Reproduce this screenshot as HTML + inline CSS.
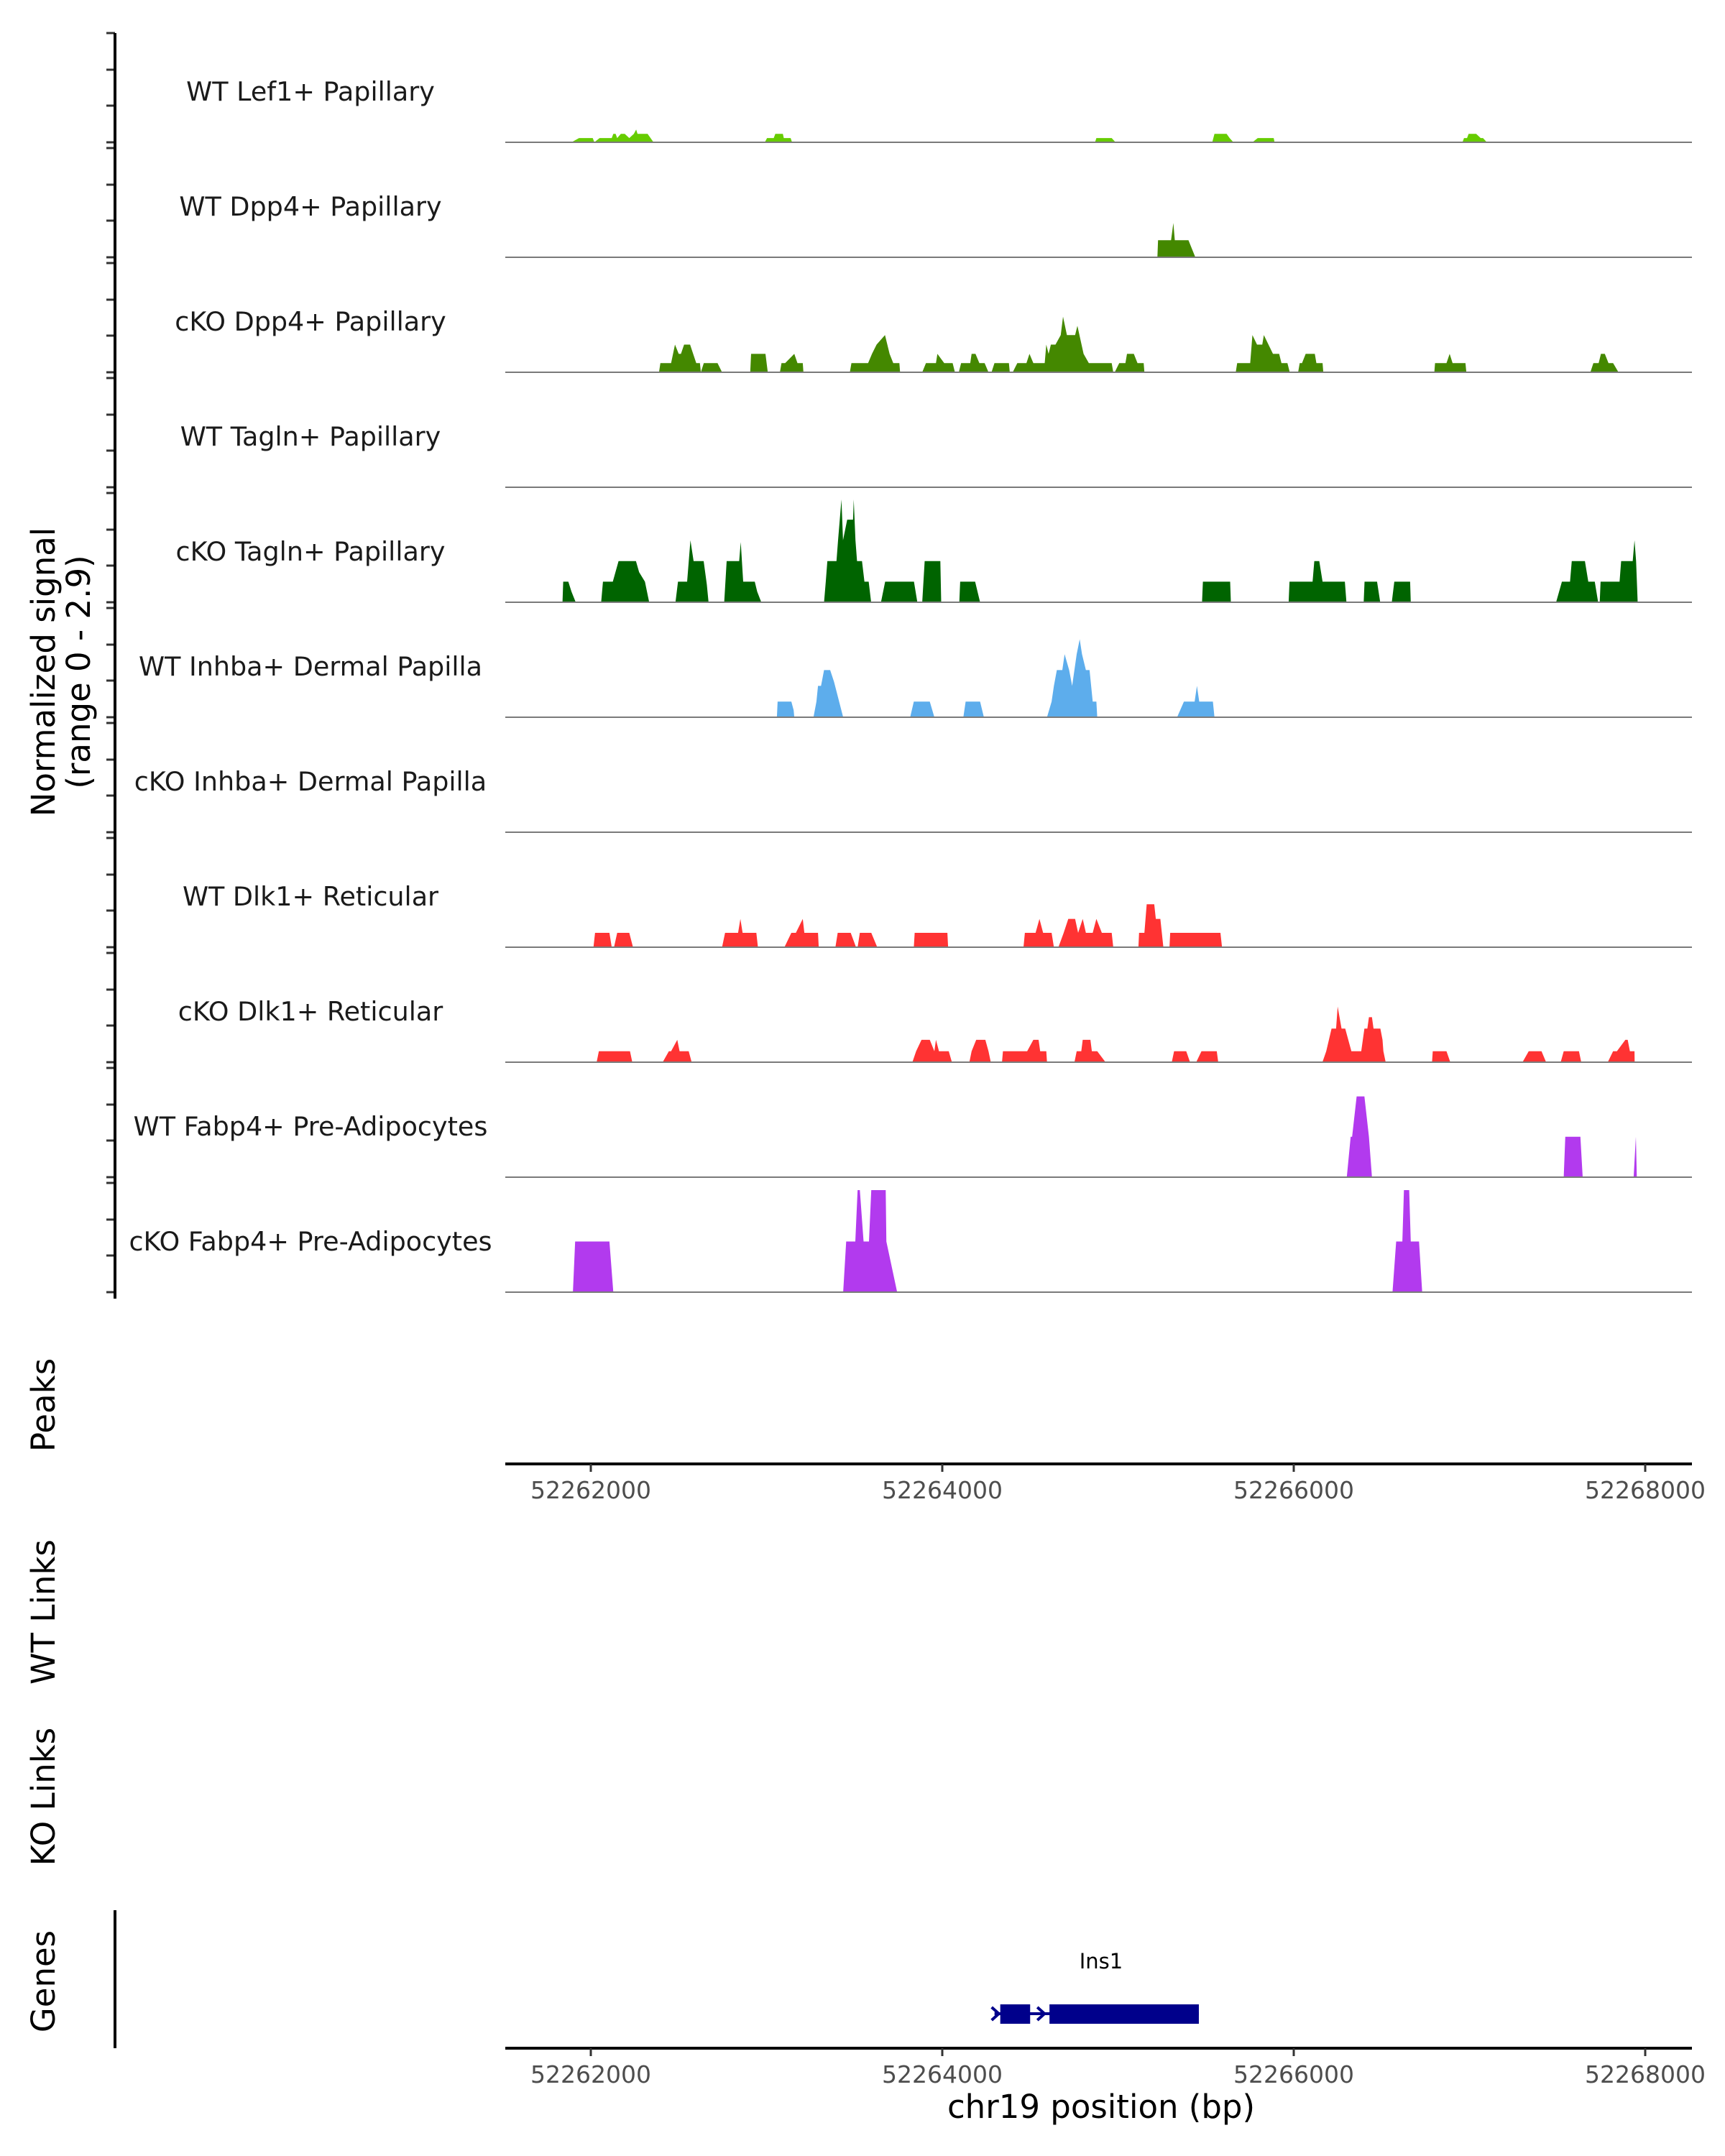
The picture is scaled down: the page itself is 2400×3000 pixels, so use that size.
<!DOCTYPE html>
<html><head><meta charset="utf-8"><style>
html,body{margin:0;padding:0;background:#fff;}
svg{display:block;font-family:"DejaVu Sans","Liberation Sans",sans-serif;}
</style></head><body>
<svg id="chart" width="2400" height="3000" viewBox="0 0 2400 3000" xmlns="http://www.w3.org/2000/svg">
<rect width="2400" height="3000" fill="#fff"/>
<g id="tracks"></g>
<g id="axes"></g>
</svg>
<script>
const regionStart = 52261500;
const trackNames = ["WT Lef1+ Papillary","WT Dpp4+ Papillary","cKO Dpp4+ Papillary","WT Tagln+ Papillary","cKO Tagln+ Papillary","WT Inhba+ Dermal Papilla","cKO Inhba+ Dermal Papilla","WT Dlk1+ Reticular","cKO Dlk1+ Reticular","WT Fabp4+ Pre-Adipocytes","cKO Fabp4+ Pre-Adipocytes"];
const trackColors = ["#66cc00","#448800","#448800","#006400","#006400","#5dadec","#5dadec","#ff3333","#ff3333","#b23aee","#b23aee"];
const xTicks = [52262000,52264000,52266000,52268000];
const yRangeMax = 2.9;
// positions: bp offset from regionStart; values: normalized signal
const lef1Pos = [390,433,511,520,550,619,628,641,650,671,693,719,745,758,766,823,857,1490,1503,1541,1550,1593,1598,1637,1645,3369,3377,3464,3486,4036,4049,4118,4135,4157,4265,4295,4386,4391,5460,5469,5486,5495,5538,5564,5577,5599];
const lef1Val = [0,0.12,0.12,0,0.12,0.12,0.24,0.24,0.12,0.24,0.24,0.12,0.24,0.36,0.24,0.24,0,0,0.12,0.12,0.24,0.24,0.12,0.12,0,0,0.12,0.12,0,0,0.24,0.24,0.12,0,0,0.12,0.12,0,0,0.12,0.12,0.24,0.24,0.12,0.12,0];
const wtDpp4Pos = [3724,3728,3802,3815,3823,3901,3940];
const wtDpp4Val = [0,0.48,0.48,0.97,0.48,0.48,0];
const koDpp4Pos = [888,896,957,979,1000,1013,1031,1065,1100,1121,1126,1143,1221,1247,1407,1412,1494,1507,1576,1585,1606,1658,1676,1706,1710,1974,1983,2078,2100,2126,2174,2200,2221,2256,2260,2386,2407,2464,2472,2511,2559,2572,2594,2607,2659,2667,2689,2711,2741,2763,2780,2797,2879,2884,2901,2927,2979,2996,3018,3083,3092,3105,3118,3144,3174,3187,3209,3256,3269,3304,3334,3464,3473,3481,3507,3542,3551,3590,3611,3646,3650,4170,4178,4252,4265,4291,4321,4330,4382,4417,4430,4464,4477,4525,4534,4547,4568,4620,4629,4664,4668,5300,5304,5369,5387,5404,5477,5482,6188,6205,6235,6248,6270,6291,6317,6348];
const koDpp4Val = [0,0.26,0.26,0.78,0.52,0.52,0.78,0.78,0.26,0.26,0,0.26,0.26,0,0,0.52,0.52,0,0,0.26,0.26,0.52,0.26,0.26,0,0,0.26,0.26,0.52,0.78,1.05,0.52,0.26,0.26,0,0,0.26,0.26,0.52,0.26,0.26,0,0,0.26,0.26,0.52,0.52,0.26,0.26,0,0,0.26,0.26,0,0,0.26,0.26,0.52,0.26,0.26,0.78,0.52,0.78,0.78,1.05,1.57,1.05,1.05,1.31,0.52,0.26,0.26,0,0,0.26,0.26,0.52,0.52,0.26,0.26,0,0,0.26,0.26,1.05,0.78,0.78,1.05,0.52,0.52,0.26,0.26,0,0,0.26,0.26,0.52,0.52,0.26,0.26,0,0,0.26,0.26,0.52,0.26,0.26,0,0,0.26,0.26,0.52,0.52,0.26,0.26,0];
const wtTaglnPos = [];
const wtTaglnVal = [];
const koTaglnPos = [339,343,372,390,414,559,569,625,658,757,775,808,832,982,996,1048,1067,1085,1142,1160,1170,1259,1273,1344,1353,1367,1433,1447,1470,1827,1837,1846,1898,1907,1926,1935,1959,1992,1996,2006,2015,2043,2057,2081,2095,2151,2175,2339,2358,2386,2400,2489,2494,2597,2602,2687,2715,3978,3983,4138,4142,4471,4476,4607,4617,4645,4664,4791,4800,4898,4903,4974,4992,5058,5072,5162,5166,5993,6026,6072,6082,6157,6176,6213,6232,6241,6246,6354,6363,6429,6439,6448,6457];
const koTaglnVal = [0,0.58,0.58,0.3,0,0,0.58,0.58,1.16,1.16,0.85,0.58,0,0,0.58,0.58,1.75,1.16,1.16,0.5,0,0,1.16,1.16,1.7,0.58,0.58,0.3,0,0,0.58,1.16,1.16,1.75,2.9,1.75,2.33,2.33,2.9,1.75,1.16,1.16,0.58,0.58,0,0,0.58,0.58,0,0,1.16,1.16,0,0,0.58,0.58,0,0,0.58,0.58,0,0,0.58,0.58,1.16,1.16,0.58,0.58,0,0,0.58,0.58,0,0,0.58,0.58,0,0,0.58,0.58,1.16,1.16,0.58,0.58,0,0,0.58,0.58,1.16,1.16,1.75,1.16,0];
const wtInhbaPos = [1559,1563,1641,1654,1658,1767,1784,1793,1810,1827,1862,1884,1936,2317,2338,2429,2455,2620,2633,2715,2737,3096,3122,3135,3152,3183,3196,3222,3239,3265,3282,3295,3317,3338,3356,3377,3382,3836,3875,3936,3949,3962,4040,4049];
const wtInhbaVal = [0,0.44,0.44,0.2,0,0,0.44,0.885,0.885,1.33,1.33,1.0,0,0,0.44,0.44,0,0,0.44,0.44,0,0,0.44,0.885,1.33,1.33,1.78,1.33,0.885,1.78,2.2,1.78,1.33,1.33,0.44,0.44,0,0,0.44,0.44,0.885,0.44,0.44,0];
const koInhbaPos = [];
const koInhbaVal = [];
const wtDlk1Pos = [515,524,606,619,632,650,719,740,1247,1264,1338,1351,1364,1442,1451,1602,1641,1667,1706,1715,1793,1797,1892,1905,1979,2009,2018,2031,2096,2130,2338,2343,2529,2533,2962,2970,3031,3053,3074,3122,3135,3161,3191,3217,3256,3273,3299,3317,3356,3377,3408,3464,3473,3616,3620,3650,3663,3706,3715,3741,3758,3793,3797,4083,4092];
const wtDlk1Val = [0,0.405,0.405,0,0,0.405,0.405,0,0,0.405,0.405,0.8,0.405,0.405,0,0,0.405,0.405,0.8,0.405,0.405,0,0,0.405,0.405,0,0,0.405,0.405,0,0,0.405,0.405,0,0,0.405,0.405,0.8,0.405,0.405,0,0,0.405,0.8,0.8,0.405,0.8,0.405,0.405,0.8,0.405,0.405,0,0,0.405,0.405,1.21,1.21,0.8,0.8,0,0,0.405,0.405,0];
const koDlk1Pos = [533,546,723,736,909,944,957,992,1005,1057,1074,2330,2351,2382,2429,2455,2464,2481,2537,2555,2654,2667,2693,2745,2763,2776,2840,2845,2983,3018,3048,3057,3092,3096,3252,3265,3291,3299,3343,3351,3382,3429,3806,3819,3888,3910,3945,3975,4062,4070,4663,4685,4715,4741,4750,4772,4793,4828,4884,4902,4919,4928,4945,4954,4993,5005,5010,5023,5287,5291,5369,5391,5802,5837,5910,5936,6019,6036,6123,6136,6287,6317,6339,6387,6400,6413,6439,6440];
const koDlk1Val = [0,0.31,0.31,0,0,0.31,0.31,0.63,0.31,0.31,0,0,0.31,0.63,0.63,0.31,0.63,0.31,0.31,0,0,0.31,0.63,0.63,0.31,0,0,0.31,0.31,0.63,0.63,0.31,0.31,0,0,0.31,0.31,0.63,0.63,0.31,0.31,0,0,0.31,0.31,0,0,0.31,0.31,0,0,0.31,0.95,0.95,1.57,0.95,0.95,0.31,0.31,0.95,0.95,1.27,1.27,0.95,0.95,0.63,0.31,0,0,0.31,0.31,0,0,0.31,0.31,0,0,0.31,0.31,0,0,0.31,0.31,0.63,0.63,0.31,0.31,0];
const wtFabp4Pos = [4802,4824,4832,4858,4902,4928,4945,6036,6045,6131,6144,6434,6447,6452];
const wtFabp4Val = [0,1.14,1.14,2.28,2.28,1.14,0,0,1.14,1.14,0,0,1.14,0];
const koFabp4Pos = [398,411,606,628,1936,1953,2005,2018,2031,2052,2083,2096,2178,2182,2243,5062,5083,5118,5127,5157,5166,5213,5231];
const koFabp4Val = [0,1.43,1.43,0,0,1.43,1.43,2.88,2.88,1.43,1.43,2.88,2.88,1.43,0,0,1.43,1.43,2.88,2.88,1.43,1.43,0];
const geneName = "Ins1";
const exonStarts = [52264330,52264610];
const exonEnds = [52264500,52265460];

const trackPos = [lef1Pos,wtDpp4Pos,koDpp4Pos,wtTaglnPos,koTaglnPos,wtInhbaPos,koInhbaPos,wtDlk1Pos,koDlk1Pos,wtFabp4Pos,koFabp4Pos];
const trackVal = [lef1Val,wtDpp4Val,koDpp4Val,wtTaglnVal,koTaglnVal,wtInhbaVal,koInhbaVal,wtDlk1Val,koDlk1Val,wtFabp4Val,koFabp4Val];

const NS = "http://www.w3.org/2000/svg";
const X0 = 822, PXPERBP = 0.2445, PL = 703, PR = 2354;
function xs(bp){ return X0 + (bp - 52262000) * PXPERBP; }
function base(i){ return 198 + 160 * i; }
function ys(i, v){ return base(i) - v / yRangeMax * 143; }
function mk(tag, attrs, parent){ const e = document.createElementNS(NS, tag); for (const k in attrs) e.setAttribute(k, attrs[k]); parent.appendChild(e); return e; }
const tg = document.getElementById('tracks');
const ax = document.getElementById('axes');

for (let i = 0; i < trackNames.length; i++) {
  const g = mk('g', {}, tg);
  
  
  const pos = trackPos[i], val = trackVal[i];
  if (pos.length) {
    let d = 'M' + xs(regionStart + pos[0]).toFixed(1) + ',' + base(i);
    for (let j = 0; j < pos.length; j++) d += 'L' + xs(regionStart + pos[j]).toFixed(1) + ',' + ys(i, val[j]).toFixed(1);
    d += 'L' + xs(regionStart + pos[pos.length - 1]).toFixed(1) + ',' + base(i) + 'Z';
    const p = mk('path', {d: d, fill: trackColors[i]}, g);
    
    
  }
  const bl = mk('line', {x1: PL, x2: PR, y1: base(i), y2: base(i), stroke: '#7a7a7a', 'stroke-width': 2}, g);
  
  
  const t = mk('text', {x: 432, y: base(i) - 58, 'text-anchor': 'middle', 'font-size': 36.5, fill: '#1a1a1a'}, g);
  t.textContent = trackNames[i];
  
  
  const top = base(i) - 152;
  [0, 51, 101, 152].forEach(function(o){
    const tk = mk('line', {x1: 148, x2: 160, y1: top + o, y2: top + o, stroke: '#333', 'stroke-width': 3}, ax);
    
    
  });
}
const yl = mk('line', {x1: 160, x2: 160, y1: 46, y2: 1807, stroke: '#000', 'stroke-width': 4}, ax);



function xAxis(y, name){
  const g = mk('g', {}, ax);
  
  
  mk('line', {x1: PL, x2: PR, y1: y, y2: y, stroke: '#000', 'stroke-width': 4}, g);
  xTicks.forEach(function(v){
    const tk = mk('line', {x1: xs(v), x2: xs(v), y1: y, y2: y + 11, stroke: '#333', 'stroke-width': 3}, g);
    
    
    const tl = mk('text', {x: xs(v), y: y + 48, 'text-anchor': 'middle', 'font-size': 33, fill: '#4d4d4d'}, g);
    tl.textContent = String(v);
    
    
  });
}
xAxis(2037, 'peaks-x-axis');
xAxis(2850, 'genes-x-axis');

function rotLabel(x, y, txt, name){
  const t = mk('text', {x: x, y: y, 'text-anchor': 'middle', 'font-size': 45, fill: '#000', transform: 'rotate(-90 ' + x + ' ' + y + ')', 'dominant-baseline': 'middle'}, ax);
  t.textContent = txt;
  
  
}
rotLabel(64, 935, 'Normalized signal', 'y-axis-title');
rotLabel(113, 935, '(range 0 - 2.9)', 'y-axis-subtitle');
rotLabel(64, 1955, 'Peaks', 'peaks-label');
rotLabel(64, 2243, 'WT Links', 'wt-links-label');
rotLabel(64, 2500, 'KO Links', 'ko-links-label');
rotLabel(64, 2757, 'Genes', 'genes-label');
const gl = mk('line', {x1: 160, x2: 160, y1: 2658, y2: 2850, stroke: '#000', 'stroke-width': 4}, ax);



const xt = mk('text', {x: 1532, y: 2947, 'text-anchor': 'middle', 'font-size': 45, fill: '#000'}, ax);
xt.textContent = 'chr19 position (bp)';



// gene model
const gg = mk('g', {}, ax);


const gy = 2802;
mk('line', {x1: xs(exonStarts[0]) - 8, x2: xs(exonEnds[1]), y1: gy, y2: gy, stroke: '#00008b', 'stroke-width': 4}, gg);
for (let k = 0; k < exonStarts.length; k++) {
  const r = mk('rect', {x: xs(exonStarts[k]), y: gy - 13, width: xs(exonEnds[k]) - xs(exonStarts[k]), height: 27, fill: '#00008b'}, gg);
  
  
}
[xs(exonStarts[0]) - 2, xs(exonEnds[0]) + 20].forEach(function(ax0){
  const a = mk('path', {d: 'M' + (ax0 - 10) + ',' + (gy - 9) + 'L' + ax0 + ',' + gy + 'L' + (ax0 - 10) + ',' + (gy + 9), fill: 'none', stroke: '#00008b', 'stroke-width': 4}, gg);
  
  
});
const gt = mk('text', {x: 1532, y: 2739, 'text-anchor': 'middle', 'font-size': 29, fill: '#000'}, gg);
gt.textContent = geneName;


</script>
</body></html>
